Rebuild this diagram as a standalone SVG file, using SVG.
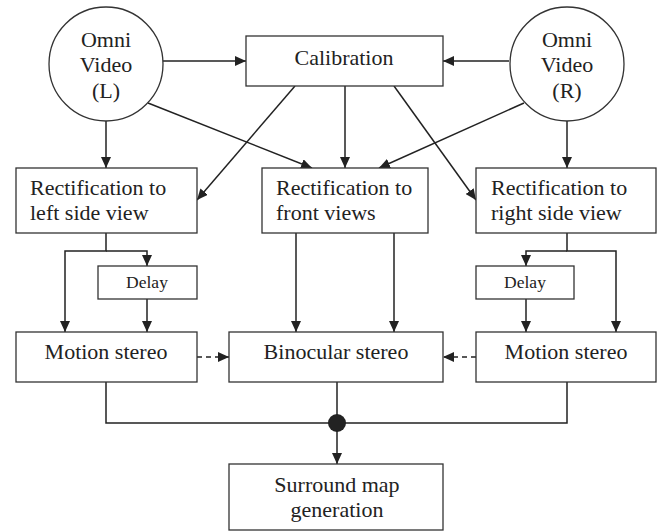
<svg xmlns="http://www.w3.org/2000/svg" width="662" height="531" viewBox="0 0 662 531">
<style>
.box{fill:#fff;stroke:#333;stroke-width:1.3}
.t{font-family:"Liberation Serif","Times New Roman",serif;font-size:22px;fill:#222}
.s{font-family:"Liberation Serif","Times New Roman",serif;font-size:17.5px;fill:#222}
.c{text-anchor:middle}
.ln{fill:none;stroke:#222;stroke-width:1.5}
.dash{fill:none;stroke:#222;stroke-width:1.5;stroke-dasharray:5,4}
</style>
<defs>
<marker id="ah" markerUnits="userSpaceOnUse" markerWidth="11" markerHeight="10" refX="11" refY="5" orient="auto">
<path d="M0,0 L11,5 L0,10 z" fill="#222"/>
</marker>
</defs>
<rect width="662" height="531" fill="#fff"/>
<g id="connectors">
<line class="ln" x1="163" y1="61" x2="246" y2="61" marker-end="url(#ah)"/>
<line class="ln" x1="509" y1="61" x2="443" y2="61" marker-end="url(#ah)"/>
<line class="ln" x1="106" y1="121" x2="106" y2="168" marker-end="url(#ah)"/>
<line class="ln" x1="148" y1="103" x2="312" y2="168" marker-end="url(#ah)"/>
<line class="ln" x1="295" y1="86" x2="197" y2="200" marker-end="url(#ah)"/>
<line class="ln" x1="345" y1="86" x2="345" y2="168" marker-end="url(#ah)"/>
<line class="ln" x1="394" y1="86" x2="476" y2="200" marker-end="url(#ah)"/>
<line class="ln" x1="524" y1="103" x2="379" y2="168" marker-end="url(#ah)"/>
<line class="ln" x1="567" y1="121" x2="567" y2="168" marker-end="url(#ah)"/>
<polyline class="ln" points="106,233 106,251 65,251 65,332" marker-end="url(#ah)"/>
<polyline class="ln" points="106,251 147,251 147,266" marker-end="url(#ah)"/>
<line class="ln" x1="147" y1="299" x2="147" y2="332" marker-end="url(#ah)"/>
<line class="ln" x1="296" y1="233" x2="296" y2="332" marker-end="url(#ah)"/>
<line class="ln" x1="394" y1="233" x2="394" y2="332" marker-end="url(#ah)"/>
<polyline class="ln" points="567,233 567,251 616,251 616,332" marker-end="url(#ah)"/>
<polyline class="ln" points="567,251 526,251 526,266" marker-end="url(#ah)"/>
<line class="ln" x1="526" y1="299" x2="526" y2="332" marker-end="url(#ah)"/>
<line class="dash" x1="197" y1="357" x2="229" y2="357" marker-end="url(#ah)"/>
<line class="dash" x1="476" y1="357" x2="443" y2="357" marker-end="url(#ah)"/>
<polyline class="ln" points="106,382 106,423 567,423 567,382"/>
<line class="ln" x1="337" y1="382" x2="337" y2="423"/>
<line class="ln" x1="337" y1="423" x2="337" y2="464" marker-end="url(#ah)"/>
<circle cx="337" cy="423" r="9" fill="#222"/>
</g>
<g id="omni-left">
<circle cx="106" cy="64" r="57" class="box"/>
<text class="t c" x="106" y="47">Omni</text>
<text class="t c" x="106" y="72">Video</text>
<text class="t c" x="106" y="98">(L)</text>
</g>
<g id="omni-right">
<circle cx="567" cy="64" r="57" class="box"/>
<text class="t c" x="567" y="47">Omni</text>
<text class="t c" x="567" y="72">Video</text>
<text class="t c" x="567" y="98">(R)</text>
</g>
<g id="calibration">
<rect class="box" x="246" y="36" width="197" height="50"/>
<text class="t c" x="344" y="65">Calibration</text>
</g>
<g id="rect-left">
<rect class="box" x="16" y="168" width="181" height="65"/>
<text class="t" x="30" y="195">Rectification to</text>
<text class="t" x="30" y="220">left side view</text>
</g>
<g id="rect-front">
<rect class="box" x="262" y="168" width="166" height="65"/>
<text class="t" x="276" y="195">Rectification to</text>
<text class="t" x="276" y="220">front views</text>
</g>
<g id="rect-right">
<rect class="box" x="476" y="168" width="180" height="65"/>
<text class="t" x="491" y="195">Rectification to</text>
<text class="t" x="491" y="220">right side view</text>
</g>
<g id="delay-left">
<rect class="box" x="98" y="266" width="99" height="33"/>
<text class="s c" x="147" y="288">Delay</text>
</g>
<g id="delay-right">
<rect class="box" x="476" y="266" width="98" height="33"/>
<text class="s c" x="525" y="288">Delay</text>
</g>
<g id="motion-left">
<rect class="box" x="16" y="332" width="181" height="50"/>
<text class="t c" x="106" y="359">Motion stereo</text>
</g>
<g id="binocular">
<rect class="box" x="229" y="332" width="214" height="50"/>
<text class="t c" x="336" y="359">Binocular stereo</text>
</g>
<g id="motion-right">
<rect class="box" x="476" y="332" width="180" height="50"/>
<text class="t c" x="566" y="359">Motion stereo</text>
</g>
<g id="surround">
<rect class="box" x="229" y="464" width="214" height="66"/>
<text class="t c" x="337" y="492">Surround map</text>
<text class="t c" x="337" y="517">generation</text>
</g>
</svg>
